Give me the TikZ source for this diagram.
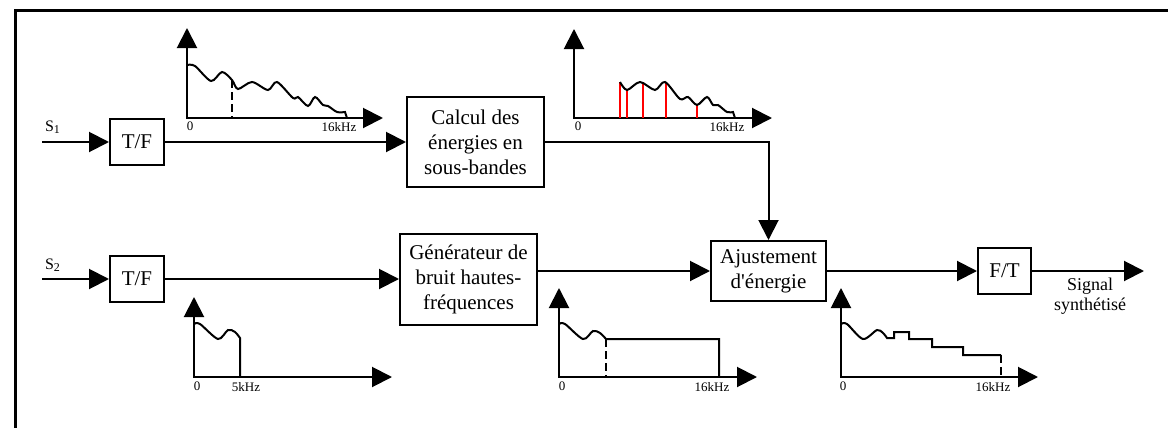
\documentclass[tikz,border=0pt]{standalone}
\usepackage{fontspec}
\setmainfont{Liberation Serif}
\usepackage{tikz}
\usetikzlibrary{arrows.meta}
\tikzset{>={Triangle[length=10pt,width=10pt]}}
\tikzset{block/.style={draw=black, rectangle, line width=1pt, inner sep=0pt, align=center, font=\fontsize{10.5}{12.5}\selectfont}}
\tikzset{freq/.style={anchor=north, inner sep=0pt, font=\fontsize{6.5}{7}\selectfont}}
\tikzset{insig/.style={inner sep=0pt, font=\fontsize{8}{9}\selectfont}}
\tikzset{band/.style={draw=red, line width=1pt}}
\tikzset{cut/.style={dash pattern=on 4pt off 2pt}}

\begin{document}
\begin{tikzpicture}[x=0.5pt, y=-0.5pt, line width=1pt]
    \useasboundingbox (0,0) rectangle (1168,428);
    \draw[line width=1.5pt] (15,428) |- (1168,10);

    % blocks
    \node[block, minimum width=27pt, minimum height=23pt] at (137,142) (tf1) {T/F};
    \node[block, minimum width=27pt, minimum height=23pt] at (137,279) (tf2) {T/F};
    \node[block, minimum width=68.5pt, minimum height=45pt] at (475.5,142) (calc) {Calcul des\\énergies en\\sous-bandes};
    \node[block, minimum width=68.5pt, minimum height=45.5pt] at (468.5,279) (gen) {Générateur de\\bruit hautes-\\fréquences};
    \node[block, minimum width=57.5pt, minimum height=30pt] at (768.5,271) (ajust) {Ajustement\\d\textquotesingle énergie};
    \node[block, minimum width=26.5pt, minimum height=23pt] at (1004.5,271) (ft) {F/T};

    \node[insig] at (53,127) (s1lab) {S\textsubscript{1}};
    \node[insig] at (53,265) (s2lab) {S\textsubscript{2}};
    \node[anchor=north, align=center, inner sep=0pt, font=\fontsize{9}{10}\selectfont] at (1090,277) (sig) {Signal\\synthétisé};

    \coordinate (s1) at (42,142);
    \coordinate (s2) at (42,279);
    \coordinate (out) at (1144,271);

    \draw [->] (s1) -- (tf1);
    \draw [->] (tf1) -- (calc);
    \draw [->] (calc.east) -| (ajust.north);
    \draw [->] (s2) -- (tf2);
    \draw [->] (tf2) -- (gen);
    \draw [->] (ajust.west -| gen.east) -- (ajust.west);
    \draw [->] (ajust) -- (ft);
    \draw [->] (ft) -- (out);

    % spectre de S1
    \draw [<->] (187,28) -- (187,118) -- (383,118);
    \draw plot[smooth] coordinates {(187,65) (195,66) (211,81) (222,72) (232,80) (238,89) (252,82) (268,90) (277,82) (293,98) (298,97) (308,106) (315,97) (323,105) (328,106) (337,112) (345,112)} -- (347,118);
    \draw [cut] (232,80) -- (232,118);
    \node[freq] at (190,121) (f1a) {0};
    \node[freq] at (339,121) (f1b) {16kHz};

    % energies en sous-bandes
    \draw [<->] (574,29) -- (574,118) -- (772,118);
    \draw [band] (620,82) -- (620,118);
    \draw [band] (627,90) -- (627,118);
    \draw [band] (643,82) -- (643,118);
    \draw [band] (666,82) -- (666,118);
    \draw [band] (697,105) -- (697,118);
    \draw plot[smooth] coordinates {(620,82) (627,90) (640,82) (655,90) (665,82) (680,99) (688,97) (697,105) (707,97) (713,105) (718,105) (727,112) (733,112)} -- (735,118);
    \node[freq] at (578,121) (f2a) {0};
    \node[freq] at (727,121) (f2b) {16kHz};

    % spectre de S2
    \draw [<->] (194,297) -- (194,377) -- (392,377);
    \draw plot[smooth] coordinates {(194,324) (200,324) (218,339) (228,330) (235,332) (240,338)} -- (240,377);
    \node[freq] at (197,381) (f3a) {0};
    \node[freq] at (246,381) (f3b) {5kHz};

    % bruit hautes-frequences
    \draw [<->] (559,288) -- (559,377) -- (757,377);
    \draw plot[smooth] coordinates {(559,324) (565,324) (583,339) (593,331) (600,333) (606,339)} -- (719,339) -- (719,377);
    \draw [cut] (606,339) -- (606,377);
    \node[freq] at (562,381) (f4a) {0};
    \node[freq] at (712,381) (f4b) {16kHz};

    % signal ajuste
    \draw [<->] (841,288) -- (841,377) -- (1038,377);
    \draw plot[smooth] coordinates {(841,324) (847,324) (863,339) (877,330) (883,333) (887,338)} -- (894,338) -- (894,332) -- (909,332) -- (909,339) -- (932,339) -- (932,347) -- (963,347) -- (963,355) -- (1001,355);
    \draw [cut] (1001,355) -- (1001,377);
    \node[freq] at (843,381) (f5a) {0};
    \node[freq] at (993,381) (f5b) {16kHz};
\end{tikzpicture}
\end{document}
